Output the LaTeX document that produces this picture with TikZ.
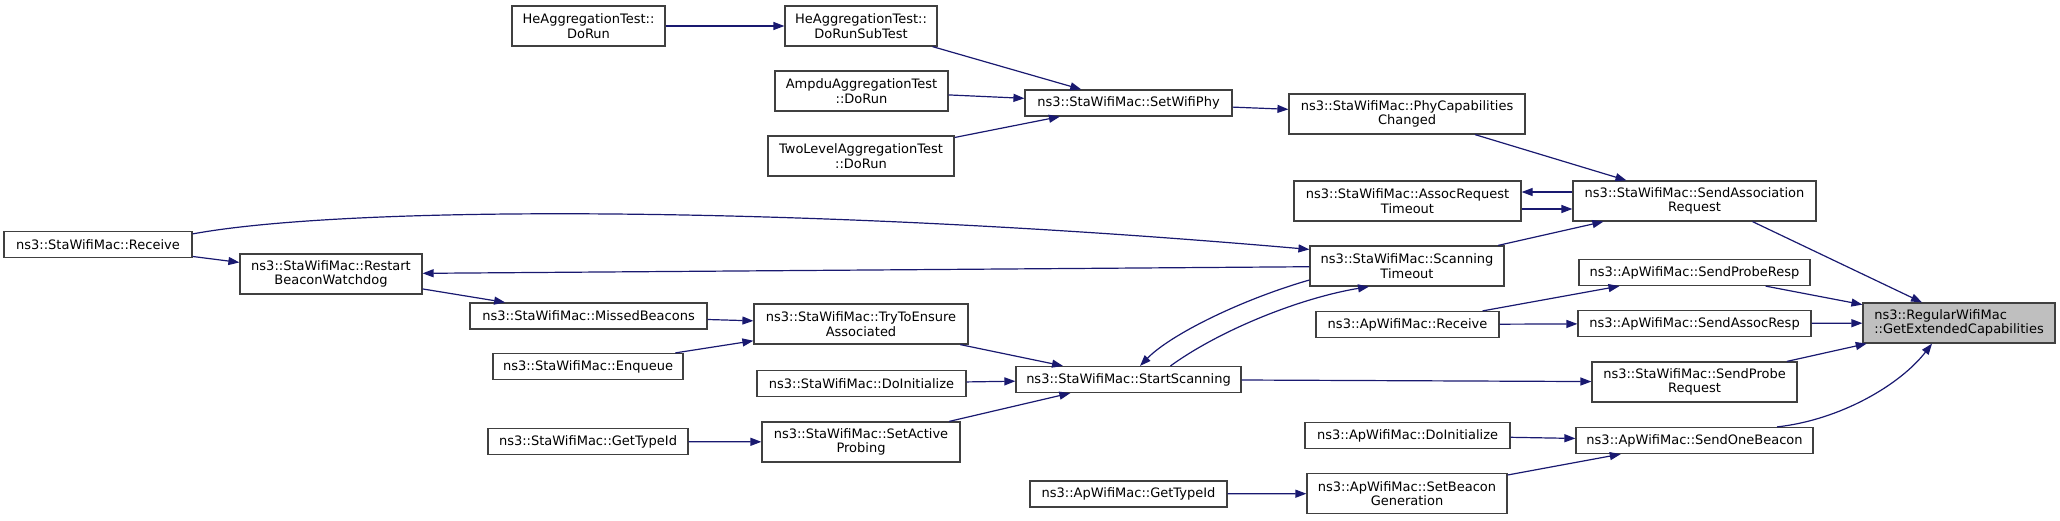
\documentclass[tikz,border=0pt]{standalone}
\usepackage{fontspec}
\setmainfont{DejaVu Sans}
\usetikzlibrary{arrows.meta}
\definecolor{edgeblue}{HTML}{191970}
\definecolor{boxline}{HTML}{404040}
\definecolor{hilite}{HTML}{BFBFBF}
\tikzset{
  fn/.style={draw=boxline, line width=1.2pt, fill=white, inner sep=0pt, align=center,
    font={\fontsize{13}{14.5}\selectfont}, text=black},
  one/.style={minimum height=26pt},
  two/.style={minimum height=40pt},
  cg/.style={draw=edgeblue, line width=1.2pt, -{Triangle[length=11pt,width=8pt]}},
}
\begin{document}
\begin{tikzpicture}[x=1pt,y=-1pt]
\useasboundingbox (0,0) rectangle (2060,520);
% column 0/1
\node[fn,one,minimum width=188pt] (stareceive) at (98,244.5) {ns3::StaWifiMac::Receive};
\node[fn,two,minimum width=182pt] (restart) at (331,274) {ns3::StaWifiMac::Restart\\BeaconWatchdog};
\node[fn,two,minimum width=153pt] (hedr) at (588.5,26) {HeAggregationTest::\\DoRun};
\node[fn,one,minimum width=237pt] (missed) at (588.5,316) {ns3::StaWifiMac::MissedBeacons};
\node[fn,one,minimum width=190pt] (enqueue) at (588,366.5) {ns3::StaWifiMac::Enqueue};
\node[fn,one,minimum width=200pt] (stagettype) at (588,441.5) {ns3::StaWifiMac::GetTypeId};
% column 2
\node[fn,two,minimum width=152pt] (hesub) at (861,26) {HeAggregationTest::\\DoRunSubTest};
\node[fn,two,minimum width=173pt] (ampdu) at (861.5,91) {AmpduAggregationTest\\::DoRun};
\node[fn,two,minimum width=186pt] (twolvl) at (861,156) {TwoLevelAggregationTest\\::DoRun};
\node[fn,two,minimum width=214pt] (tryensure) at (861,324) {ns3::StaWifiMac::TryToEnsure\\Associated};
\node[fn,one,minimum width=209pt] (stadoinit) at (861.5,383.5) {ns3::StaWifiMac::DoInitialize};
\node[fn,two,minimum width=198pt] (setactive) at (861,442) {ns3::StaWifiMac::SetActive\\Probing};
% column 3
\node[fn,one,minimum width=207pt] (setphy) at (1128.5,103) {ns3::StaWifiMac::SetWifiPhy};
\node[fn,one,minimum width=225pt] (startscan) at (1128.5,379.5) {ns3::StaWifiMac::StartScanning};
\node[fn,one,minimum width=197pt] (apgettype) at (1128.5,494) {ns3::ApWifiMac::GetTypeId};
% column 4
\node[fn,two,minimum width=236pt] (phycap) at (1407,114) {ns3::StaWifiMac::PhyCapabilities\\Changed};
\node[fn,two,minimum width=227pt] (assoctm) at (1407.5,201) {ns3::StaWifiMac::AssocRequest\\Timeout};
\node[fn,two,minimum width=194pt] (scantm) at (1407,266) {ns3::StaWifiMac::Scanning\\Timeout};
\node[fn,one,minimum width=183pt] (apreceive) at (1407.5,324.5) {ns3::ApWifiMac::Receive};
\node[fn,one,minimum width=205pt] (apdoinit) at (1407.5,435.5) {ns3::ApWifiMac::DoInitialize};
\node[fn,two,minimum width=200pt] (setbeacon) at (1407,493.5) {ns3::ApWifiMac::SetBeacon\\Generation};
% column 5
\node[fn,two,minimum width=243pt] (sendassoc) at (1694.5,201) {ns3::StaWifiMac::SendAssociation\\Request};
\node[fn,one,minimum width=231pt] (proberesp) at (1694.5,272.5) {ns3::ApWifiMac::SendProbeResp};
\node[fn,one,minimum width=233pt] (assocresp) at (1694.5,323.5) {ns3::ApWifiMac::SendAssocResp};
\node[fn,two,minimum width=205pt] (probereq) at (1694.5,382) {ns3::StaWifiMac::SendProbe\\Request};
\node[fn,one,minimum width=237pt] (sendbeacon) at (1694.5,440.5) {ns3::ApWifiMac::SendOneBeacon};
% column 6
\node[fn,two,minimum width=192pt,fill=hilite,align=left] (getext) at (1959,323) {ns3::RegularWifiMac\\::GetExtendedCapabilities};

% edges
\draw[cg] (hedr) -- (hesub);
\draw[cg] (hesub) -- (setphy);
\draw[cg] (ampdu) -- (setphy);
\draw[cg] (twolvl) -- (setphy);
\draw[cg] (setphy) -- (phycap);
\draw[cg] (phycap) -- (sendassoc);
\draw[cg] ([yshift=9pt]sendassoc.west) -- ([yshift=9pt]assoctm.east);
\draw[cg] ([yshift=-8pt]assoctm.east) -- ([yshift=-8pt]sendassoc.west);
\draw[cg] (scantm) -- (sendassoc);
\draw[cg] ([xshift=58pt]sendassoc.south) -- ([xshift=-37pt]getext.north);
\draw[cg] ([yshift=-3pt]stareceive.north east) .. controls (350,205) and (800,205) .. ([yshift=-4pt]scantm.north west);
\draw[cg] (stareceive) -- (restart);
\draw[cg] (scantm) -- (restart);
\draw[cg] (restart) -- (missed);
\draw[cg] (missed) -- (tryensure);
\draw[cg] (enqueue) -- (tryensure);
\draw[cg] (tryensure) -- (startscan);
\draw[cg] (stadoinit) -- (startscan);
\draw[cg] (setactive) -- (startscan);
\draw[cg] (stagettype) -- (setactive);
\draw[cg] ([yshift=-14pt]scantm.west) .. controls (1240,300) and (1170,335) .. ([xshift=11.5pt]startscan.north);
\draw[cg] ([xshift=42pt]startscan.north) .. controls (1220,330) and (1300,298) .. ([xshift=-38pt]scantm.south);
\draw[cg] (startscan) -- (probereq);
\draw[cg] (probereq) -- (getext);
\draw[cg] (apreceive) -- (proberesp);
\draw[cg] (apreceive) -- (assocresp);
\draw[cg] (proberesp) -- (getext);
\draw[cg] (assocresp) -- (getext);
\draw[cg] (apdoinit) -- (sendbeacon);
\draw[cg] (setbeacon) -- (sendbeacon);
\draw[cg] (apgettype) -- (setbeacon);
\draw[cg] ([xshift=82.5pt]sendbeacon.north) .. controls (1840,420) and (1900,385) .. ([xshift=-27pt]getext.south);
\end{tikzpicture}
\end{document}
